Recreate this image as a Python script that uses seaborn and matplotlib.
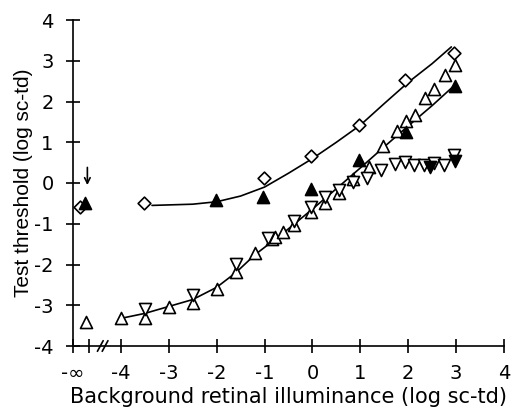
import matplotlib
matplotlib.use("Agg")
import matplotlib.pyplot as plt
import seaborn as sns
import pandas as pd

# ---- data ----
diam_x = [-4.86, -3.51, -1.02, -0.03, 0.97, 1.94, 2.95]
diam_y = [-0.58, -0.48, 0.13, 0.67, 1.42, 2.53, 3.20]

fup_x = [-4.75, -2.01, -1.03, -0.03, 0.97, 1.96, 2.97]
fup_y = [-0.50, -0.42, -0.34, -0.14, 0.56, 1.25, 2.37]

fdn_x = [2.45, 2.97]
fdn_y = [0.40, 0.55]

oup_x = [-4.72, -3.99, -3.49, -2.99, -2.50, -2.00, -1.60, -1.20, -0.85, -0.78,
         -0.62, -0.38, -0.03, 0.27, 0.55, 0.84, 1.18, 1.47, 1.77, 1.96, 2.15,
         2.34, 2.54, 2.76, 2.97]
oup_y = [-3.40, -3.32, -3.32, -3.05, -2.94, -2.60, -2.18, -1.71, -1.38, -1.32,
         -1.21, -1.02, -0.70, -0.49, -0.25, 0.10, 0.40, 0.91, 1.28, 1.51, 1.68,
         2.09, 2.30, 2.64, 2.90]

odn_x = [-3.49, -2.50, -1.60, -0.92, -0.38, -0.03, 0.27, 0.55, 0.84, 1.14,
         1.44, 1.73, 1.93, 2.13, 2.32, 2.53, 2.74, 2.96]
odn_y = [-3.08, -2.75, -1.98, -1.36, -0.94, -0.58, -0.35, -0.17, 0.03, 0.13,
         0.33, 0.46, 0.52, 0.44, 0.45, 0.49, 0.45, 0.68]

# fitted curves
cu_x = [-3.35, -2.5, -2.0, -1.5, -1.0, -0.5, 0.0, 0.5, 1.0, 1.5, 2.0, 2.5, 2.9]
cu_y = [-0.55, -0.52, -0.46, -0.32, -0.10, 0.24, 0.60, 1.00, 1.42, 1.95, 2.47, 2.93, 3.34]

cl_x = [-3.95, -3.5, -3.0, -2.5, -2.0, -1.6, -1.2, -0.6, 0.0, 0.5, 1.0, 1.5, 2.0, 2.5, 2.95]
cl_y = [-3.31, -3.20, -3.03, -2.86, -2.56, -2.20, -1.76, -1.22, -0.64, -0.14, 0.37, 0.89, 1.40, 1.90, 2.38]

xtick_pos = [-5, -4.67, -4, -3, -2, -1, 0, 1, 2, 3, 4]
xtick_lab = ["-\u221e", "", "-4", "-3", "-2", "-1", "0", "1", "2", "3", "4"]
ytick_pos = [-4, -3, -2, -1, 0, 1, 2, 3, 4]
ytick_lab = ["-4", "-3", "-2", "-1", "0", "1", "2", "3", "4"]

arrow_x = -4.70
arrow_top = 0.45
arrow_tip = -0.12

# ---- plotting ----
sns.set_style("ticks")
plt.rcParams['font.family'] = ['DejaVu Sans']
plt.rcParams['text.color'] = 'black'
plt.rcParams['axes.labelcolor'] = 'black'

fig = plt.figure(figsize=(5.13, 4.08), dpi=100)
ax = fig.add_axes([73/513, 1-346/408, (504-73)/513, (346-20)/408])

sns.lineplot(x=cu_x, y=cu_y, ax=ax, color="black", lw=1.2, sort=False)
sns.lineplot(x=cl_x, y=cl_y, ax=ax, color="black", lw=1.2, sort=False)

mk = dict(linewidth=1.2, edgecolor="black", ax=ax, legend=False, zorder=3)
sns.scatterplot(x=oup_x, y=oup_y, marker="^", s=75, facecolor="white", **mk)
sns.scatterplot(x=odn_x, y=odn_y, marker="v", s=75, facecolor="white", **mk)
sns.scatterplot(x=diam_x, y=diam_y, marker="D", s=42, facecolor="white", **mk)
sns.scatterplot(x=fup_x, y=fup_y, marker="^", s=75, facecolor="black", **mk)
sns.scatterplot(x=fdn_x, y=fdn_y, marker="v", s=75, facecolor="black", **mk)

ax.annotate("", xy=(arrow_x, arrow_tip), xytext=(arrow_x, arrow_top),
            arrowprops=dict(arrowstyle="->", color="black", lw=1.2))

ax.set_xlim(-5, 4)
ax.set_ylim(-4, 4)
ax.set_xticks(xtick_pos)
ax.set_xticklabels(xtick_lab)
ax.set_yticks(ytick_pos)
ax.set_yticklabels(ytick_lab)
ax.tick_params(direction="inout", length=10, width=1.2, labelsize=14,
               colors="black")
ax.tick_params(axis="y", pad=9)
ax.tick_params(axis="x", pad=8)
for s in ["top", "right"]:
    ax.spines[s].set_visible(False)
for s in ["left", "bottom"]:
    ax.spines[s].set_linewidth(1.2)
    ax.spines[s].set_color("black")

# axis break marks
for bx in [-4.43, -4.33]:
    ax.plot([bx - 0.06, bx + 0.06], [-4.13, -3.87], color="black", lw=1.2,
            clip_on=False, zorder=4)

ax.set_xlabel("Background retinal illuminance (log sc-td)", fontsize=15,
              labelpad=3, color="black")
ax.set_ylabel("Test threshold (log sc-td)", fontsize=15, labelpad=1,
              family="Liberation Sans", color="black")

fig.savefig("out.png", dpi=100)
